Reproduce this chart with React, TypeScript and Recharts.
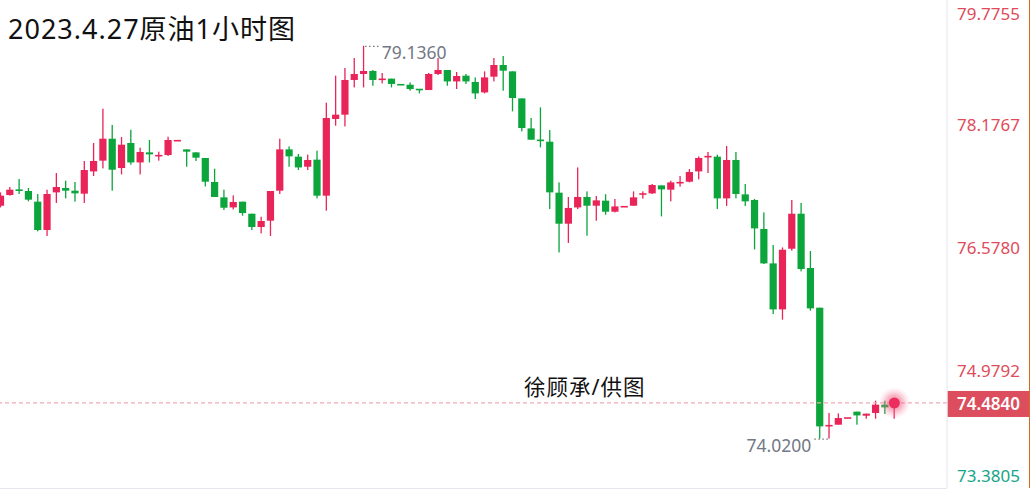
import React from 'react';
import { ComposedChart, Bar, XAxis, YAxis, ReferenceLine, ReferenceDot } from 'recharts';

// ---- data (1-hour candles, 2023-04-27 crude oil) ----
const opens = [77.053, 77.193, 77.262, 77.245, 77.106, 76.737, 77.227, 77.284, 77.249, 77.210,
  77.500, 77.640, 77.926, 77.544, 77.870, 77.617, 77.748, 77.696, 77.714, 77.900,
  77.787, 77.748, 77.675, 77.362, 77.162, 77.031, 77.106, 76.949, 76.776, 76.858,
  77.249, 77.787, 77.692, 77.561, 77.653, 77.184, 78.183, 78.239, 78.691, 78.769,
  78.808, 78.691, 78.708, 78.633, 78.629, 78.573, 78.560, 78.769, 78.821, 78.672,
  78.747, 78.665, 78.529, 78.734, 78.886, 78.803, 78.451, 78.060, 77.913, 77.887,
  77.223, 76.819, 77.031, 77.167, 77.053, 77.119, 76.975, 77.040, 77.053, 77.197,
  77.214, 77.318, 77.262, 77.344, 77.366, 77.500, 77.683, 77.692, 77.149, 77.649,
  77.201, 77.128, 76.750, 76.302, 75.703, 76.493, 76.949, 76.242, 75.725, 74.179,
  74.201, 74.288, 74.371, 74.318, 74.354, 74.462, 74.427];

const closes = [77.184, 77.262, 77.249, 77.132, 76.737, 77.206, 77.297, 77.249, 77.214, 77.518,
  77.636, 77.926, 77.522, 77.848, 77.617, 77.753, 77.722, 77.714, 77.909, 77.900,
  77.757, 77.679, 77.366, 77.167, 77.027, 77.102, 76.958, 76.776, 76.854, 77.245,
  77.787, 77.696, 77.552, 77.649, 77.184, 78.196, 78.239, 78.691, 78.769, 78.808,
  78.691, 78.708, 78.639, 78.625, 78.573, 78.560, 78.769, 78.821, 78.672, 78.743,
  78.672, 78.516, 78.724, 78.886, 78.812, 78.456, 78.065, 77.913, 77.896, 77.227,
  76.819, 77.024, 77.167, 77.053, 77.123, 76.975, 77.044, 77.040, 77.162, 77.214,
  77.323, 77.266, 77.357, 77.362, 77.492, 77.675, 77.701, 77.149, 77.649, 77.206,
  77.110, 76.758, 76.302, 75.703, 76.480, 76.949, 76.229, 75.716, 74.179, 74.197,
  74.288, 74.288, 74.322, 74.345, 74.462, 74.427, 74.484];

const highs = [77.227, 77.297, 77.401, 77.284, 77.206, 77.262, 77.479, 77.379, 77.362, 77.636,
  77.870, 78.317, 78.105, 77.948, 78.043, 77.809, 77.909, 77.757, 77.952, 77.900,
  77.787, 77.748, 77.675, 77.535, 77.262, 77.188, 77.106, 76.949, 76.910, 77.245,
  77.926, 77.826, 77.727, 77.718, 77.770, 78.395, 78.747, 78.847, 78.977, 79.136,
  78.821, 78.782, 78.708, 78.633, 78.659, 78.573, 78.782, 78.977, 78.821, 78.795,
  78.769, 78.724, 78.803, 78.977, 79.003, 78.803, 78.451, 78.196, 78.334, 78.039,
  77.357, 77.167, 77.552, 77.240, 77.180, 77.203, 77.141, 77.040, 77.240, 77.240,
  77.336, 77.318, 77.379, 77.440, 77.531, 77.696, 77.753, 77.718, 77.831, 77.753,
  77.336, 77.141, 76.966, 76.542, 76.510, 77.128, 77.089, 76.463, 75.725, 74.354,
  74.348, 74.288, 74.371, 74.345, 74.514, 74.514, 74.536];

const lows = [77.031, 77.184, 77.206, 77.110, 76.719, 76.659, 77.089, 77.149, 77.106, 77.089,
  77.440, 77.539, 77.249, 77.461, 77.587, 77.461, 77.617, 77.640, 77.701, 77.900,
  77.561, 77.636, 77.305, 77.167, 76.997, 77.005, 76.923, 76.737, 76.693, 76.659,
  77.206, 77.561, 77.518, 77.518, 77.149, 76.988, 78.095, 78.086, 78.594, 78.594,
  78.616, 78.646, 78.594, 78.625, 78.551, 78.516, 78.560, 78.756, 78.616, 78.573,
  78.639, 78.443, 78.516, 78.672, 78.551, 78.282, 78.021, 77.913, 77.813, 77.010,
  76.445, 76.568, 77.010, 76.663, 76.858, 76.936, 76.966, 77.040, 77.053, 77.145,
  77.206, 76.914, 77.110, 77.301, 77.357, 77.396, 77.479, 77.010, 77.050, 77.149,
  77.050, 76.484, 76.294, 75.643, 75.569, 76.467, 76.198, 75.686, 74.020, 74.020,
  74.201, 74.288, 74.201, 74.279, 74.279, 74.341, 74.279];

const hours = opens.map((_, i) => `H${i + 1}`);

const yTicks = [79.7755, 78.1767, 76.578, 74.9792, 73.3805];
const yDomain = [73.3805, 79.7755];
const lastPrice = 74.484;
const highMark = { index: 39, value: 79.136, label: '79.1360' };
const lowMark = { index: 89, value: 74.02, label: '74.0200' };
const title = '2023.4.27原油1小时图';
const credit = '徐顾承/供图';

const data = hours.map((t, i) => ({
  t,
  open: opens[i],
  close: closes[i],
  high: highs[i],
  low: lows[i],
  range: [lows[i], highs[i]],
}));

const RED = '#E92459';
const GREEN = '#0BA53B';
const AXIS_RED = '#E04B5B';
const AXIS_TEAL = '#14A587';
const NUM_FONT = '"Noto Sans", "Open Sans", sans-serif';
const TITLE_FONT = '"Noto Sans", "Noto Sans CJK SC", sans-serif';

const Candle = (props: any) => {
  const { x, y, width, height, payload } = props;
  if (x == null || y == null || !payload) return null;
  const { open, close, high, low } = payload;
  const color = close >= open ? RED : GREEN;
  const cx = x + width / 2;
  const h = Math.max(height || 0, 0);
  const k = high > low ? h / (high - low) : 0;
  const yo = y + (high - open) * k;
  const yc = y + (high - close) * k;
  let top = Math.min(yo, yc);
  let bh = Math.abs(yo - yc);
  if (bh < 1.6) {
    top = (yo + yc) / 2 - 0.8;
    bh = 1.6;
  }
  return (
    <g>
      {h > 0 && <rect x={cx - 0.65} y={y} width={1.3} height={h} fill={color} />}
      <rect x={cx - 3.6} y={top} width={7.2} height={bh} fill={color} />
    </g>
  );
};

const PriceTick = (props: any) => {
  const { x, y, payload } = props;
  const v = payload.value;
  const ly = Math.min(Math.max(y + 6, 14), 476);
  const color = v === yTicks[yTicks.length - 1] ? AXIS_TEAL : AXIS_RED;
  return (
    <text x={x + 10} y={ly} dy="0.35em" fill={color} fontSize={17} fontFamily={NUM_FONT} textAnchor="start">
      {Number(v).toFixed(4)}
    </text>
  );
};

const PriceTag = (props: any) => {
  const vb = props.viewBox || {};
  const right = (vb.x || 0) + (vb.width || 0);
  const cy = (vb.y || 0) + 1;
  return (
    <g>
      <rect x={right + 0.5} y={cy - 13} width={82.5} height={26} fill="#DC4D5E" />
      <text x={right + 10} y={cy} dy="0.35em" fill="#ffffff" fontSize={17} fontWeight={600} fontFamily={NUM_FONT}>
        {lastPrice.toFixed(4)}
      </text>
    </g>
  );
};

const Glow = (props: any) => {
  const { cx, cy } = props;
  if (cx == null || cy == null) return null;
  return (
    <g>
      <defs>
        <radialGradient id="lastGlow">
          <stop offset="0%" stopColor="#EE3A66" stopOpacity={0.75} />
          <stop offset="50%" stopColor="#F06488" stopOpacity={0.45} />
          <stop offset="100%" stopColor="#F7A8BC" stopOpacity={0} />
        </radialGradient>
      </defs>
      <circle cx={cx} cy={cy} r={16} fill="url(#lastGlow)" />
      <circle cx={cx} cy={cy} r={5.5} fill="#EC2E5E" />
    </g>
  );
};

const HighLabel = (props: any) => {
  const { cx, cy } = props;
  if (cx == null || cy == null) return null;
  return (
    <g>
      <line x1={cx + 1.5} y1={cy + 0.5} x2={cx + 16} y2={cy + 0.5} stroke="#555" strokeWidth={1.2} strokeDasharray="1.2 2.8" />
      <text x={cx + 18} y={cy + 7} dy="0.35em" fill="#737884" fontSize={17.5} fontFamily={NUM_FONT}>
        {highMark.label}
      </text>
    </g>
  );
};

const LowLabel = (props: any) => {
  const { cx, cy } = props;
  if (cx == null || cy == null) return null;
  return (
    <g>
      <line x1={cx - 1.5} y1={cy + 0.5} x2={cx - 16} y2={cy + 0.5} stroke="#555" strokeWidth={1.2} strokeDasharray="1.2 2.8" />
      <text x={cx - 18} y={cy + 7} dy="0.35em" fill="#737884" fontSize={17.5} fontFamily={NUM_FONT} textAnchor="end">
        {lowMark.label}
      </text>
    </g>
  );
};

export default function App() {
  return (
    <div style={{ position: 'absolute', left: 0, top: 0, width: 1031, height: 495, background: '#fff', overflow: 'hidden' }}>
      <ComposedChart
        width={1031}
        height={495}
        data={data}
        margin={{ top: -3.3, right: 0, bottom: 7.3, left: -4 }}
        barCategoryGap={0}
      >
        <XAxis dataKey="t" hide padding={{ left: 0, right: 48 }} />
        <YAxis
          orientation="right"
          width={84}
          domain={yDomain}
          ticks={yTicks}
          interval={0}
          allowDataOverflow
          axisLine={{ stroke: '#E6E6EE', strokeWidth: 1 }}
          tickLine={false}
          tickSize={0}
          tickMargin={0}
          tick={<PriceTick />}
        />
        <ReferenceLine
          y={lastPrice}
          stroke="#F2AAB5"
          strokeWidth={1.3}
          strokeDasharray="4 3"
          label={<PriceTag />}
        />
        <Bar dataKey="range" shape={<Candle />} isAnimationActive={false} />
        <ReferenceDot x={hours[highMark.index]} y={highMark.value} shape={<HighLabel />} />
        <ReferenceDot x={hours[lowMark.index]} y={lowMark.value} shape={<LowLabel />} />
        <ReferenceDot x={hours[hours.length - 1]} y={lastPrice} shape={<Glow />} />
      </ComposedChart>
      <div style={{ position: 'absolute', left: 0, top: 488, width: 947, height: 1, background: '#E6E6EE' }} />
      <div style={{ position: 'absolute', left: 1028.5, top: 0, width: 1.5, height: 488, background: '#D8691F' }} />
      <div style={{ position: 'absolute', left: 8, top: 13, fontFamily: TITLE_FONT, fontSize: 27, letterSpacing: 1, lineHeight: '32px', color: '#111', whiteSpace: 'nowrap' }}>
        {title}
      </div>
      <div style={{ position: 'absolute', left: 524, top: 374, fontFamily: TITLE_FONT, fontSize: 21.5, letterSpacing: 1, lineHeight: '26px', color: '#111', whiteSpace: 'nowrap' }}>
        {credit}
      </div>
    </div>
  );
}
